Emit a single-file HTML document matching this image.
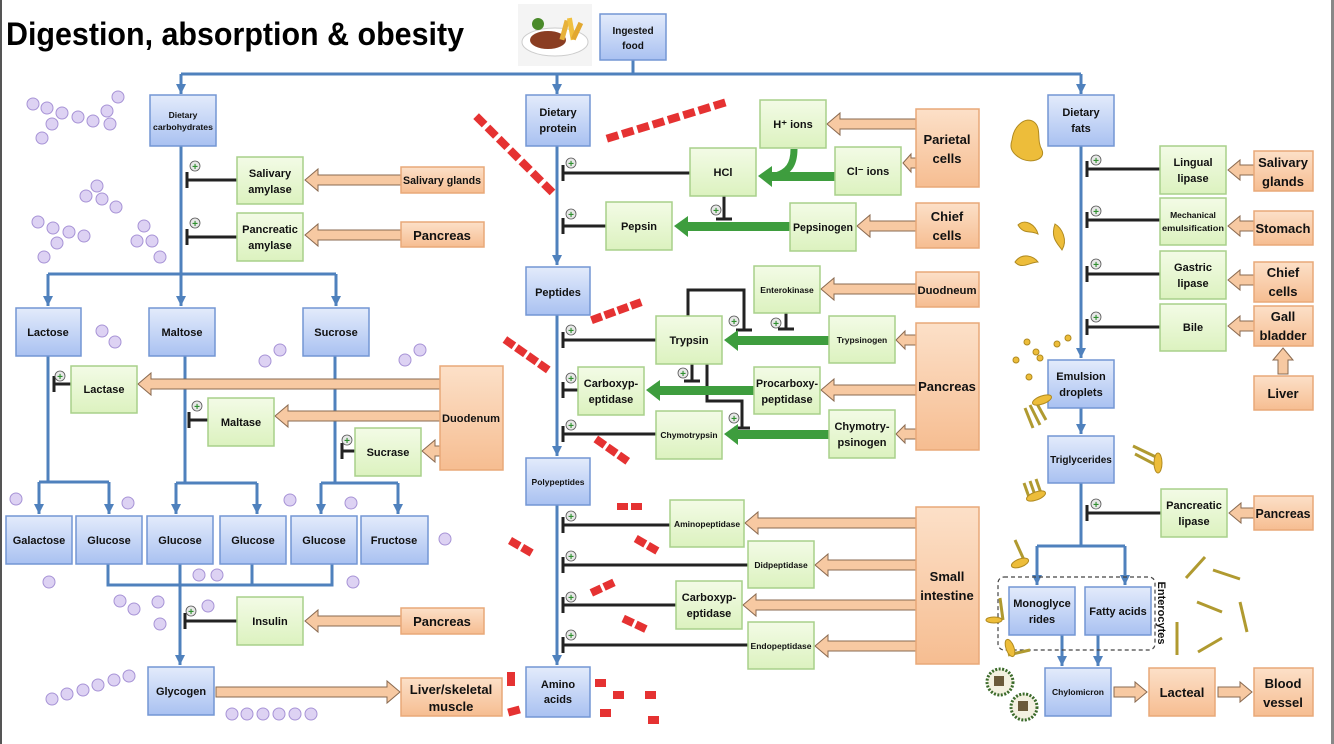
<!DOCTYPE html>
<html><head><meta charset="utf-8"><style>
html,body{margin:0;padding:0;background:#fff;}
svg{display:block;}
</style></head><body>
<svg width="1334" height="744" viewBox="0 0 1334 744" xmlns="http://www.w3.org/2000/svg" font-family="Liberation Sans, sans-serif">
<defs>
<linearGradient id="gb" x1="0" y1="0" x2="0" y2="1"><stop offset="0" stop-color="#e3ebfb"/><stop offset="1" stop-color="#a9c1f1"/></linearGradient>
<linearGradient id="gg" x1="0" y1="0" x2="0" y2="1"><stop offset="0" stop-color="#f3fbe6"/><stop offset="1" stop-color="#dcf2bf"/></linearGradient>
<linearGradient id="go" x1="0" y1="0" x2="0" y2="1"><stop offset="0" stop-color="#fce0c8"/><stop offset="1" stop-color="#f6bd91"/></linearGradient>
<marker id="ab" markerWidth="12" markerHeight="12" refX="10" refY="5" orient="auto" markerUnits="userSpaceOnUse"><path d="M0,0 L10,5 L0,10 Z" fill="#4f81bd"/></marker>
</defs>
<style>
.b{fill:url(#gb);stroke:#7396d4;stroke-width:1.5}
.g{fill:url(#gg);stroke:#a8d08a;stroke-width:1.5}
.o{fill:url(#go);stroke:#e8a878;stroke-width:1.5}
.t{font-weight:bold;fill:#111;text-anchor:middle;font-size:11px}
.s{font-size:8.5px}.m{font-size:10px}.l{font-size:13px}
.bl{stroke:#4f81bd;stroke-width:3;fill:none}
.ba{stroke:#4f81bd;stroke-width:3;fill:none;marker-end:url(#ab)}
.k{stroke:#222;stroke-width:3;fill:none}
.oa{fill:#f7c9a2;stroke:#8a6a50;stroke-width:1}
.ga{fill:#3e9d3e}
.hx{fill:#ddd2f3;stroke:#a793d6;stroke-width:1}
.rd{fill:#e53232}
.yl{fill:#edbd3a;stroke:#b08a20;stroke-width:1}
.st{stroke:#b09a30;stroke-width:3}
</style>
<rect x="0" y="0" width="2" height="744" fill="#555"/>
<rect x="1331" y="0" width="3" height="744" fill="#888"/>
<text x="6" y="45" font-size="32" font-weight="bold" fill="#000" textLength="458" lengthAdjust="spacingAndGlyphs">Digestion, absorption &amp; obesity</text>
<!-- food image -->
<rect x="518" y="4" width="74" height="62" fill="#f4f4f4"/>
<ellipse cx="555" cy="42" rx="33" ry="14" fill="#fff" stroke="#ccc"/>
<ellipse cx="548" cy="40" rx="18" ry="9" fill="#8a3d22"/>
<rect x="562" y="20" width="5" height="20" fill="#e7b13a" transform="rotate(15 564 30)"/>
<rect x="569" y="18" width="5" height="22" fill="#f0c040" transform="rotate(-10 571 30)"/>
<rect x="575" y="22" width="5" height="18" fill="#e2a830" transform="rotate(25 577 30)"/>
<circle cx="538" cy="24" r="6" fill="#4a8a2a"/>

<!-- top connectors -->
<line class="bl" x1="633" y1="60" x2="633" y2="74"/>
<line class="bl" x1="181" y1="74" x2="1081" y2="74"/>
<line class="ba" x1="181" y1="74" x2="181" y2="94"/>
<line class="ba" x1="557" y1="74" x2="557" y2="94"/>
<line class="ba" x1="1081" y1="74" x2="1081" y2="94"/>

<!-- carbs connectors -->
<line class="bl" x1="181" y1="146" x2="181" y2="274"/>
<line class="bl" x1="48" y1="274" x2="336" y2="274"/>
<line class="ba" x1="48" y1="274" x2="48" y2="306"/>
<line class="ba" x1="181" y1="274" x2="181" y2="306"/>
<line class="ba" x1="336" y1="274" x2="336" y2="306"/>
<line class="bl" x1="48" y1="356" x2="48" y2="482"/>
<line class="bl" x1="39" y1="482" x2="109" y2="482"/>
<line class="ba" x1="39" y1="482" x2="39" y2="514"/>
<line class="ba" x1="109" y1="482" x2="109" y2="514"/>
<line class="bl" x1="185" y1="356" x2="185" y2="483"/>
<line class="bl" x1="176" y1="483" x2="257" y2="483"/>
<line class="ba" x1="176" y1="483" x2="176" y2="514"/>
<line class="ba" x1="257" y1="483" x2="257" y2="514"/>
<line class="bl" x1="335" y1="356" x2="335" y2="483"/>
<line class="bl" x1="321" y1="483" x2="398" y2="483"/>
<line class="ba" x1="321" y1="483" x2="321" y2="514"/>
<line class="ba" x1="398" y1="483" x2="398" y2="514"/>
<path class="bl" d="M108,564 V585 H332 V564 M180,564 V585 M252,564 V585"/>
<line class="ba" x1="180" y1="585" x2="180" y2="665"/>

<!-- protein connectors -->
<line class="ba" x1="557" y1="146" x2="557" y2="265"/>
<line class="ba" x1="557" y1="315" x2="557" y2="456"/>
<line class="ba" x1="557" y1="505" x2="557" y2="665"/>

<!-- fats connectors -->
<line class="ba" x1="1081" y1="146" x2="1081" y2="358"/>
<line class="ba" x1="1081" y1="408" x2="1081" y2="434"/>
<line class="bl" x1="1081" y1="483" x2="1081" y2="546"/>
<line class="bl" x1="1037" y1="546" x2="1125" y2="546"/>
<line class="ba" x1="1037" y1="546" x2="1037" y2="585"/>
<line class="ba" x1="1125" y1="546" x2="1125" y2="585"/>
<line class="ba" x1="1062" y1="635" x2="1062" y2="666"/>
<line class="ba" x1="1098" y1="635" x2="1098" y2="666"/>
<rect x="998" y="577" width="157" height="73" rx="6" fill="none" stroke="#444" stroke-width="1.2" stroke-dasharray="4,3"/>
<text class="t" font-size="12" transform="translate(1158 613) rotate(90)">Enterocytes</text>

<!-- inhibition lines -->
<g class="k">
<path d="M237,180 H187 M187,172 V188"/>
<path d="M237,237 H187 M187,229 V245"/>
<path d="M71,384 H54 M54,376 V392"/>
<path d="M208,420 H189 M189,412 V428"/>
<path d="M355,451 H342 M342,443 V459"/>
<path d="M237,621 H185 M185,613 V629"/>
<path d="M690,173 H563 M563,165 V181"/>
<path d="M606,226 H563 M563,218 V234"/>
<path d="M656,340 H563 M563,332 V348"/>
<path d="M578,390 H563 M563,382 V398"/>
<path d="M656,434 H563 M563,426 V442"/>
<path d="M670,525 H563 M563,517 V533"/>
<path d="M748,565 H563 M563,557 V573"/>
<path d="M676,605 H563 M563,597 V613"/>
<path d="M748,645 H563 M563,637 V653"/>
<path d="M1160,169 H1087 M1087,161 V177"/>
<path d="M1160,220 H1087 M1087,212 V228"/>
<path d="M1160,274 H1087 M1087,266 V282"/>
<path d="M1160,327 H1087 M1087,319 V335"/>
<path d="M1161,513 H1087 M1087,505 V521"/>
<path d="M724,196 V219 M716,219 H732"/>
<path d="M786,313 V329 M778,329 H794"/>
<path d="M688,316 V290 H744 V330 M736,330 H752"/>
<path d="M692,364 V381 M684,381 H700"/>
<path d="M707,364 V401 H742 V428 M734,428 H750"/>
</g>
<!-- plus circles -->
<g fill="#e8e8e8" stroke="#555" stroke-width="0.8">
<circle cx="195" cy="166" r="5"/><circle cx="195" cy="223" r="5"/><circle cx="60" cy="376" r="5"/><circle cx="197" cy="406" r="5"/><circle cx="347" cy="440" r="5"/><circle cx="191" cy="611" r="5"/>
<circle cx="571" cy="163" r="5"/><circle cx="571" cy="214" r="5"/><circle cx="571" cy="330" r="5"/><circle cx="571" cy="378" r="5"/><circle cx="571" cy="425" r="5"/><circle cx="571" cy="516" r="5"/><circle cx="571" cy="556" r="5"/><circle cx="571" cy="597" r="5"/><circle cx="571" cy="635" r="5"/>
<circle cx="1096" cy="160" r="5"/><circle cx="1096" cy="211" r="5"/><circle cx="1096" cy="264" r="5"/><circle cx="1096" cy="317" r="5"/><circle cx="1096" cy="504" r="5"/>
<circle cx="716" cy="210" r="5"/><circle cx="776" cy="323" r="5"/><circle cx="734" cy="321" r="5"/><circle cx="683" cy="373" r="5"/><circle cx="734" cy="418" r="5"/>
</g>
<g fill="#2f8f2f" font-size="10" font-weight="bold" text-anchor="middle">
<text x="195" y="170">+</text><text x="195" y="227">+</text><text x="60" y="380">+</text><text x="197" y="410">+</text><text x="347" y="444">+</text><text x="191" y="615">+</text>
<text x="571" y="167">+</text><text x="571" y="218">+</text><text x="571" y="334">+</text><text x="571" y="382">+</text><text x="571" y="429">+</text><text x="571" y="520">+</text><text x="571" y="560">+</text><text x="571" y="601">+</text><text x="571" y="639">+</text>
<text x="1096" y="164">+</text><text x="1096" y="215">+</text><text x="1096" y="268">+</text><text x="1096" y="321">+</text><text x="1096" y="508">+</text>
<text x="716" y="214">+</text><text x="776" y="327">+</text><text x="734" y="325">+</text><text x="683" y="377">+</text><text x="734" y="422">+</text>
</g>

<!-- green arrows -->
<path class="ga" d="M758,176 L772,166 L772,172 L835,172 L835,181 L772,181 L772,187 Z"/>
<path d="M794,149 C794,165 788,172 776,176" stroke="#3e9d3e" stroke-width="7" fill="none"/>
<path class="ga" d="M674,226 L688,216 L688,222 L790,222 L790,231 L688,231 L688,237 Z"/>
<path class="ga" d="M724,340 L738,330 L738,336 L829,336 L829,345 L738,345 L738,351 Z"/>
<path class="ga" d="M646,390 L660,380 L660,386 L754,386 L754,395 L660,395 L660,401 Z"/>
<path class="ga" d="M724,434 L738,424 L738,430 L829,430 L829,439 L738,439 L738,445 Z"/>

<!-- orange arrows -->
<g class="oa">
<path d="M305,180 L318,169 L318,175 L401,175 L401,185 L318,185 L318,191 Z"/>
<path d="M305,235 L318,224 L318,230 L401,230 L401,240 L318,240 L318,246 Z"/>
<path d="M138,384 L151,373 L151,379 L440,379 L440,389 L151,389 L151,395 Z"/>
<path d="M275,416 L288,405 L288,411 L440,411 L440,421 L288,421 L288,427 Z"/>
<path d="M422,451 L435,440 L435,446 L440,446 L440,456 L435,456 L435,462 Z"/>
<path d="M305,621 L318,610 L318,616 L401,616 L401,626 L318,626 L318,632 Z"/>
<path d="M400,692 L387,681 L387,687 L216,687 L216,697 L387,697 L387,703 Z"/>
<path d="M827,124 L840,113 L840,119 L916,119 L916,129 L840,129 L840,135 Z"/>
<path d="M903,163 L911,154 L911,158 L916,158 L916,168 L911,168 L911,172 Z"/>
<path d="M857,226 L870,215 L870,221 L916,221 L916,231 L870,231 L870,237 Z"/>
<path d="M821,289 L834,278 L834,284 L916,284 L916,294 L834,294 L834,300 Z"/>
<path d="M896,340 L905,331 L905,335 L916,335 L916,345 L905,345 L905,349 Z"/>
<path d="M821,390 L834,379 L834,385 L916,385 L916,395 L834,395 L834,401 Z"/>
<path d="M896,434 L905,425 L905,429 L916,429 L916,439 L905,439 L905,443 Z"/>
<path d="M745,523 L758,512 L758,518 L916,518 L916,528 L758,528 L758,534 Z"/>
<path d="M815,565 L828,554 L828,560 L916,560 L916,570 L828,570 L828,576 Z"/>
<path d="M743,605 L756,594 L756,600 L916,600 L916,610 L756,610 L756,616 Z"/>
<path d="M815,646 L828,635 L828,641 L916,641 L916,651 L828,651 L828,657 Z"/>
<path d="M1228,170 L1240,160 L1240,165 L1254,165 L1254,175 L1240,175 L1240,180 Z"/>
<path d="M1228,226 L1240,216 L1240,221 L1254,221 L1254,231 L1240,231 L1240,236 Z"/>
<path d="M1228,280 L1240,270 L1240,275 L1254,275 L1254,285 L1240,285 L1240,290 Z"/>
<path d="M1228,326 L1240,316 L1240,321 L1254,321 L1254,331 L1240,331 L1240,336 Z"/>
<path d="M1229,513 L1241,503 L1241,508 L1254,508 L1254,518 L1241,518 L1241,523 Z"/>
<path d="M1283,348 L1293,360 L1288,360 L1288,374 L1278,374 L1278,360 L1273,360 Z"/>
<path d="M1147,692 L1135,682 L1135,687 L1114,687 L1114,697 L1135,697 L1135,702 Z"/>
<path d="M1252,692 L1240,682 L1240,687 L1218,687 L1218,697 L1240,697 L1240,702 Z"/>
</g>

<!-- blue boxes -->
<g class="b">
<rect x="600" y="14" width="66" height="46"/>
<rect x="150" y="95" width="66" height="51"/><rect x="526" y="95" width="64" height="51"/><rect x="1048" y="95" width="66" height="51"/>
<rect x="16" y="308" width="65" height="48"/><rect x="149" y="308" width="66" height="48"/><rect x="303" y="308" width="66" height="48"/>
<rect x="6" y="516" width="66" height="48"/><rect x="76" y="516" width="66" height="48"/><rect x="147" y="516" width="66" height="48"/><rect x="220" y="516" width="66" height="48"/><rect x="291" y="516" width="66" height="48"/><rect x="361" y="516" width="67" height="48"/>
<rect x="148" y="667" width="66" height="48"/>
<rect x="526" y="267" width="64" height="48"/><rect x="526" y="458" width="64" height="47"/><rect x="526" y="667" width="64" height="50"/>
<rect x="1048" y="360" width="66" height="48"/><rect x="1048" y="436" width="66" height="47"/>
<rect x="1009" y="587" width="66" height="48"/><rect x="1085" y="587" width="66" height="48"/><rect x="1045" y="668" width="66" height="48"/>
</g>
<!-- green boxes -->
<g class="g">
<rect x="237" y="157" width="66" height="47"/><rect x="237" y="213" width="66" height="48"/>
<rect x="71" y="366" width="66" height="47"/><rect x="208" y="398" width="66" height="48"/><rect x="355" y="428" width="66" height="48"/><rect x="237" y="597" width="66" height="48"/>
<rect x="760" y="100" width="66" height="48"/><rect x="690" y="148" width="66" height="48"/><rect x="835" y="147" width="66" height="48"/>
<rect x="606" y="202" width="66" height="48"/><rect x="790" y="203" width="66" height="48"/>
<rect x="754" y="266" width="66" height="47"/><rect x="656" y="316" width="66" height="48"/><rect x="829" y="316" width="66" height="47"/>
<rect x="578" y="367" width="66" height="48"/><rect x="754" y="367" width="66" height="47"/>
<rect x="656" y="411" width="66" height="48"/><rect x="829" y="410" width="66" height="48"/>
<rect x="670" y="500" width="74" height="47"/><rect x="748" y="541" width="66" height="47"/><rect x="676" y="581" width="66" height="48"/><rect x="748" y="622" width="66" height="47"/>
<rect x="1160" y="146" width="66" height="48"/><rect x="1160" y="198" width="66" height="47"/><rect x="1160" y="251" width="66" height="48"/><rect x="1160" y="304" width="66" height="47"/><rect x="1161" y="489" width="66" height="48"/>
</g>
<!-- orange boxes -->
<g class="o">
<rect x="401" y="167" width="83" height="26"/><rect x="401" y="222" width="83" height="25"/>
<rect x="440" y="366" width="63" height="104"/><rect x="401" y="608" width="83" height="26"/><rect x="401" y="678" width="101" height="38"/>
<rect x="916" y="109" width="63" height="78"/><rect x="916" y="203" width="63" height="45"/><rect x="916" y="272" width="63" height="35"/>
<rect x="916" y="323" width="63" height="127"/><rect x="916" y="507" width="63" height="157"/>
<rect x="1254" y="151" width="59" height="40"/><rect x="1254" y="211" width="59" height="34"/><rect x="1254" y="262" width="59" height="40"/><rect x="1254" y="306" width="59" height="40"/><rect x="1254" y="376" width="59" height="34"/><rect x="1254" y="496" width="59" height="34"/>
<rect x="1149" y="668" width="66" height="48"/><rect x="1254" y="668" width="59" height="48"/>
</g>

<!-- labels -->
<g class="t">
<text class="m" x="633" y="34">Ingested</text><text class="m" x="633" y="49">food</text>
<text class="s" x="183" y="118">Dietary</text><text class="s" x="183" y="130" textLength="60" lengthAdjust="spacingAndGlyphs">carbohydrates</text>
<text x="558" y="116">Dietary</text><text x="558" y="132">protein</text>
<text x="1081" y="116">Dietary</text><text x="1081" y="132">fats</text>
<text x="48" y="336">Lactose</text><text x="182" y="336">Maltose</text><text x="336" y="336">Sucrose</text>
<text x="39" y="544">Galactose</text><text x="109" y="544">Glucose</text><text x="180" y="544">Glucose</text><text x="253" y="544">Glucose</text><text x="324" y="544">Glucose</text><text x="394" y="544">Fructose</text>
<text x="181" y="695">Glycogen</text>
<text x="558" y="296">Peptides</text><text class="s" x="558" y="485">Polypeptides</text>
<text x="558" y="688">Amino</text><text x="558" y="703">acids</text>
<text x="1081" y="380">Emulsion</text><text x="1081" y="396">droplets</text>
<text class="m" x="1081" y="463">Triglycerides</text>
<text x="1042" y="607">Monoglyce</text><text x="1042" y="623">rides</text>
<text x="1118" y="615">Fatty acids</text>
<text class="s" x="1078" y="695">Chylomicron</text>

<text x="270" y="177">Salivary</text><text x="270" y="193">amylase</text>
<text x="270" y="233">Pancreatic</text><text x="270" y="249">amylase</text>
<text x="104" y="393">Lactase</text><text x="241" y="426">Maltase</text><text x="388" y="456">Sucrase</text><text x="270" y="625">Insulin</text>
<text x="793" y="128">H⁺ ions</text><text x="723" y="176">HCl</text><text x="868" y="175">Cl⁻ ions</text>
<text x="639" y="230">Pepsin</text><text x="823" y="231" textLength="60" lengthAdjust="spacingAndGlyphs">Pepsinogen</text>
<text class="s" x="787" y="293">Enterokinase</text><text x="689" y="344">Trypsin</text><text class="s" x="862" y="343">Trypsinogen</text>
<text x="611" y="387">Carboxyp-</text><text x="611" y="403">eptidase</text>
<text x="787" y="387" textLength="62" lengthAdjust="spacingAndGlyphs">Procarboxy-</text><text x="787" y="403">peptidase</text>
<text class="s" x="689" y="438">Chymotrypsin</text>
<text x="862" y="430">Chymotry-</text><text x="862" y="446">psinogen</text>
<text class="s" x="707" y="527">Aminopeptidase</text><text class="s" x="781" y="568">Didpeptidase</text>
<text x="709" y="601">Carboxyp-</text><text x="709" y="617">eptidase</text>
<text class="s" x="781" y="649">Endopeptidase</text>
<text x="1193" y="166">Lingual</text><text x="1193" y="182">lipase</text>
<text class="s" x="1193" y="218">Mechanical</text><text class="s" x="1193" y="231" textLength="62" lengthAdjust="spacingAndGlyphs">emulsification</text>
<text x="1193" y="271">Gastric</text><text x="1193" y="287">lipase</text>
<text x="1193" y="331">Bile</text>
<text x="1194" y="509">Pancreatic</text><text x="1194" y="525">lipase</text>

<text x="442" y="184" textLength="78" lengthAdjust="spacingAndGlyphs">Salivary glands</text>
<text class="l" x="442" y="240">Pancreas</text>
<text x="471" y="422" textLength="58" lengthAdjust="spacingAndGlyphs">Duodenum</text>
<text class="l" x="442" y="626">Pancreas</text>
<text class="l" x="451" y="694">Liver/skeletal</text><text class="l" x="451" y="711">muscle</text>
<text class="l" x="947" y="144">Parietal</text><text class="l" x="947" y="163">cells</text>
<text class="l" x="947" y="221">Chief</text><text class="l" x="947" y="240">cells</text>
<text x="947" y="294" textLength="59" lengthAdjust="spacingAndGlyphs">Duodneum</text>
<text class="l" x="947" y="391">Pancreas</text>
<text class="l" x="947" y="581">Small</text><text class="l" x="947" y="600">intestine</text>
<text class="l" x="1283" y="167">Salivary</text><text class="l" x="1283" y="186">glands</text>
<text class="l" x="1283" y="233" textLength="55" lengthAdjust="spacingAndGlyphs">Stomach</text>
<text class="l" x="1283" y="277">Chief</text><text class="l" x="1283" y="296">cells</text>
<text class="l" x="1283" y="321">Gall</text><text class="l" x="1283" y="340">bladder</text>
<text class="l" x="1283" y="398">Liver</text>
<text class="l" x="1283" y="518" textLength="55" lengthAdjust="spacingAndGlyphs">Pancreas</text>
<text class="l" x="1182" y="697">Lacteal</text>
<text class="l" x="1283" y="688">Blood</text><text class="l" x="1283" y="707">vessel</text>
</g>

<!-- decorations: hexagons -->
<g class="hx">
<circle cx="33" cy="104" r="6"/><circle cx="47" cy="108" r="6"/><circle cx="62" cy="113" r="6"/><circle cx="78" cy="117" r="6"/><circle cx="93" cy="121" r="6"/><circle cx="107" cy="111" r="6"/><circle cx="118" cy="97" r="6"/><circle cx="110" cy="124" r="6"/><circle cx="52" cy="124" r="6"/><circle cx="42" cy="138" r="6"/>
<circle cx="97" cy="186" r="6"/><circle cx="86" cy="196" r="6"/><circle cx="102" cy="199" r="6"/><circle cx="116" cy="207" r="6"/>
<circle cx="38" cy="222" r="6"/><circle cx="53" cy="228" r="6"/><circle cx="69" cy="232" r="6"/><circle cx="84" cy="236" r="6"/><circle cx="57" cy="243" r="6"/><circle cx="44" cy="257" r="6"/>
<circle cx="144" cy="226" r="6"/><circle cx="137" cy="241" r="6"/><circle cx="152" cy="241" r="6"/><circle cx="160" cy="257" r="6"/>
<circle cx="102" cy="331" r="6"/><circle cx="115" cy="342" r="6"/><circle cx="265" cy="361" r="6"/><circle cx="280" cy="350" r="6"/><circle cx="405" cy="360" r="6"/><circle cx="420" cy="350" r="6"/>
<circle cx="16" cy="499" r="6"/><circle cx="128" cy="503" r="6"/><circle cx="290" cy="500" r="6"/><circle cx="351" cy="503" r="6"/><circle cx="445" cy="539" r="6"/>
<circle cx="49" cy="582" r="6"/><circle cx="199" cy="575" r="6"/><circle cx="217" cy="575" r="6"/><circle cx="353" cy="582" r="6"/>
<circle cx="120" cy="601" r="6"/><circle cx="134" cy="609" r="6"/><circle cx="158" cy="602" r="6"/><circle cx="160" cy="624" r="6"/><circle cx="208" cy="606" r="6"/>
<circle cx="52" cy="699" r="6"/><circle cx="67" cy="694" r="6"/><circle cx="83" cy="690" r="6"/><circle cx="98" cy="685" r="6"/><circle cx="114" cy="680" r="6"/><circle cx="129" cy="676" r="6"/>
<circle cx="232" cy="714" r="6"/><circle cx="247" cy="714" r="6"/><circle cx="263" cy="714" r="6"/><circle cx="279" cy="714" r="6"/><circle cx="295" cy="714" r="6"/><circle cx="311" cy="714" r="6"/>
</g>
<!-- red dashes -->
<g class="rd">
<g transform="rotate(45 515 155)"><rect x="460" y="151" width="12" height="8"/><rect x="476" y="151" width="12" height="8"/><rect x="492" y="151" width="12" height="8"/><rect x="508" y="151" width="12" height="8"/><rect x="524" y="151" width="12" height="8"/><rect x="540" y="151" width="12" height="8"/><rect x="556" y="151" width="12" height="8"/></g>
<g transform="rotate(-17 668 120)"><rect x="604" y="116" width="12" height="8"/><rect x="620" y="116" width="12" height="8"/><rect x="636" y="116" width="12" height="8"/><rect x="652" y="116" width="12" height="8"/><rect x="668" y="116" width="12" height="8"/><rect x="684" y="116" width="12" height="8"/><rect x="700" y="116" width="12" height="8"/><rect x="716" y="116" width="12" height="8"/></g>
<g transform="rotate(-20 614 312)"><rect x="590" y="308" width="11" height="8"/><rect x="604" y="308" width="11" height="8"/><rect x="618" y="308" width="11" height="8"/><rect x="632" y="308" width="11" height="8"/></g>
<g transform="rotate(35 527 355)"><rect x="500" y="351" width="11" height="8"/><rect x="514" y="351" width="11" height="8"/><rect x="528" y="351" width="11" height="8"/><rect x="542" y="351" width="11" height="8"/></g>
<g transform="rotate(35 613 451)"><rect x="592" y="447" width="11" height="8"/><rect x="606" y="447" width="11" height="8"/><rect x="620" y="447" width="11" height="8"/></g>
<rect x="617" y="503" width="11" height="7"/><rect x="631" y="503" width="11" height="7"/>
<g transform="rotate(30 523 548)"><rect x="508" y="544" width="11" height="8"/><rect x="522" y="544" width="11" height="8"/></g>
<g transform="rotate(30 647 545)"><rect x="634" y="541" width="11" height="8"/><rect x="648" y="541" width="11" height="8"/></g>
<g transform="rotate(-25 604 587)"><rect x="590" y="583" width="11" height="8"/><rect x="604" y="583" width="11" height="8"/></g>
<g transform="rotate(25 635 624)"><rect x="622" y="620" width="11" height="8"/><rect x="636" y="620" width="11" height="8"/></g>
<rect x="507" y="672" width="8" height="14"/><rect x="508" y="707" width="12" height="8" transform="rotate(-15 514 711)"/>
<rect x="595" y="679" width="11" height="8"/><rect x="613" y="691" width="11" height="8"/><rect x="645" y="691" width="11" height="8"/><rect x="600" y="709" width="11" height="8"/><rect x="648" y="716" width="11" height="8"/>
</g>
<!-- yellow fat shapes -->
<g class="yl">
<path d="M1012,140 C1014,125 1026,116 1034,122 C1042,128 1036,140 1042,150 C1046,160 1030,164 1020,158 C1010,152 1010,146 1012,140 Z"/>
<path d="M1018,225 C1025,218 1036,225 1038,234 C1030,230 1024,235 1018,225 Z"/>
<path d="M1055,224 C1062,228 1068,240 1062,250 C1058,244 1050,238 1055,224 Z"/>
<path d="M1015,262 C1022,252 1034,256 1038,262 C1030,262 1022,270 1015,262 Z"/>
<circle cx="1027" cy="342" r="3"/><circle cx="1036" cy="352" r="3"/><circle cx="1040" cy="358" r="3"/><circle cx="1057" cy="344" r="3"/><circle cx="1068" cy="338" r="3"/><circle cx="1016" cy="360" r="3"/><circle cx="1029" cy="377" r="3"/>
</g>
<g class="st">
<line x1="1025" y1="408" x2="1033" y2="428"/><line x1="1030" y1="405" x2="1040" y2="425"/><line x1="1036" y1="402" x2="1046" y2="420"/>
<line x1="1133" y1="446" x2="1158" y2="458"/><line x1="1135" y1="454" x2="1158" y2="466"/>
<line x1="1024" y1="483" x2="1030" y2="500"/><line x1="1030" y1="481" x2="1036" y2="498"/><line x1="1036" y1="479" x2="1042" y2="496"/>
<line x1="1015" y1="540" x2="1024" y2="560"/><line x1="1000" y1="598" x2="1003" y2="620"/><line x1="1008" y1="655" x2="1030" y2="650"/>
<line x1="1186" y1="578" x2="1205" y2="557"/><line x1="1213" y1="570" x2="1240" y2="579"/><line x1="1197" y1="602" x2="1222" y2="612"/><line x1="1240" y1="602" x2="1247" y2="632"/><line x1="1177" y1="622" x2="1177" y2="655"/><line x1="1198" y1="652" x2="1222" y2="638"/>
</g>
<g fill="#edbd3a" stroke="#b08a20">
<ellipse cx="1042" cy="400" rx="10" ry="4" transform="rotate(-20 1042 400)"/>
<ellipse cx="1158" cy="463" rx="4" ry="10"/>
<ellipse cx="1036" cy="496" rx="10" ry="4" transform="rotate(-20 1036 496)"/>
<ellipse cx="1020" cy="563" rx="9" ry="4" transform="rotate(-20 1020 563)"/>
<ellipse cx="994" cy="620" rx="8" ry="3"/>
<ellipse cx="1010" cy="648" rx="4" ry="9" transform="rotate(-20 1010 648)"/>
</g>
<g fill="#f3f0e0" stroke="#3b6a2a" stroke-width="3" stroke-dasharray="2,1.5">
<circle cx="1000" cy="682" r="13"/><circle cx="1024" cy="707" r="13"/>
</g>
<g fill="#6b5a3a"><rect x="994" y="676" width="10" height="10"/><rect x="1018" y="701" width="10" height="10"/></g>
</svg>
</body></html>
